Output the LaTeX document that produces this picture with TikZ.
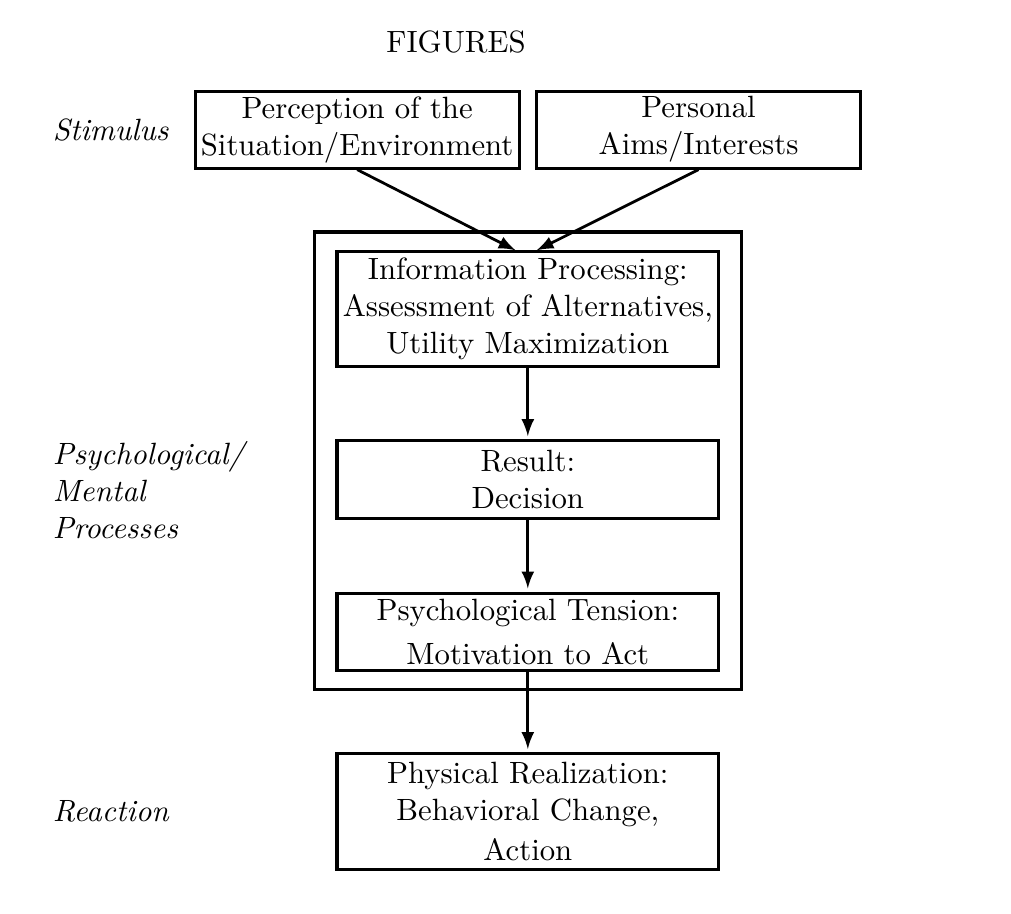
\documentclass[tikz,border=0pt]{standalone}
\usetikzlibrary{arrows}

\begin{document}
\begin{tikzpicture}
\useasboundingbox (0,0) rectangle (11.55,-10.44);
\begin{scope}[every node/.style={align=center,line width=1pt,inner sep=1pt}]

    \node (T) at (5.21,-0.48) {FIGURES};

    \node[anchor=west] (S) at (0.55,-1.48) {\textit{Stimulus}};
    \node[anchor=west,align=left] (M) at (0.55,-5.60)
        {\textit{Psychological/}\\ \textit{Mental}\\ \textit{Processes}};
    \node[anchor=west] (R) at (0.55,-9.27) {\textit{Reaction}};

    \node[draw,minimum width=3.70cm,minimum height=0.88cm] (A) at (4.08,-1.48)
        {Perception of the\\ Situation/Environment};
    \node[draw,minimum width=3.71cm,minimum height=0.88cm] (B) at (7.98,-1.48)
        {Personal\\ Aims/Interests};

    \draw[line width=1pt] (3.59,-2.65) rectangle (8.47,-7.88);

    \node[draw,minimum width=4.36cm,minimum height=1.32cm] (C) at (6.03,-3.53)
        {Information Processing:\\ Assessment of Alternatives,\\ Utility Maximization};
    \node[draw,minimum width=4.36cm,minimum height=0.89cm] (D) at (6.03,-5.48)
        {Result:\\ Decision};
    \node[draw,minimum width=4.36cm,minimum height=0.89cm] (E) at (6.03,-7.22)
        {Psychological Tension:\\[2pt] Motivation to Act};
    \node[draw,minimum width=4.36cm,minimum height=1.32cm] (F) at (6.03,-9.27)
        {Physical Realization:\\ Behavioral Change,\\[1pt] Action};

    \coordinate (CL) at (5.89,-2.86);
    \coordinate (CR) at (6.13,-2.86);

\end{scope}

\begin{scope}[every edge/.style={draw,line width=0.9pt,-latex}]

    \path (A.south) edge (CL);
    \path (B.south) edge (CR);

    \path (C) edge[shorten >=1pt] (D);
    \path (D) edge[shorten >=1pt] (E);
    \path (E) edge[shorten >=1pt] (F);

\end{scope}

\end{tikzpicture}
\end{document}
